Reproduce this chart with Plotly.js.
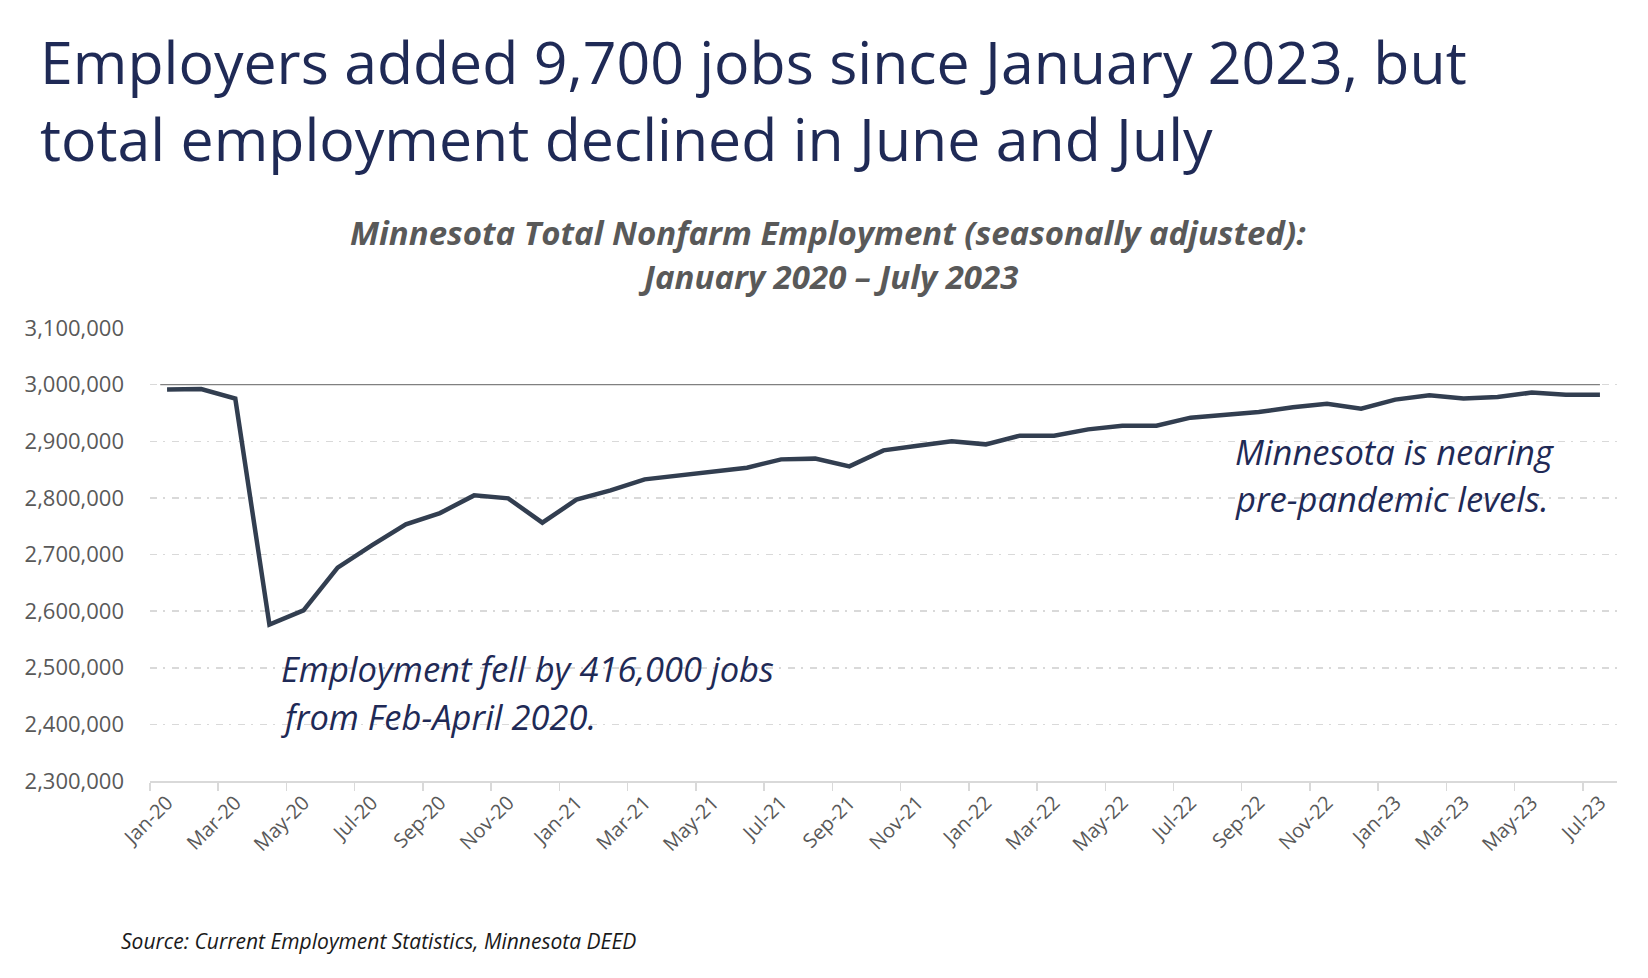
<!DOCTYPE html>
<html>
<head>
<meta charset="utf-8">
<script src="https://cdn.plot.ly/plotly-3.0.1.min.js"></script>
<style>
  html, body { margin: 0; padding: 0; background: #ffffff; }
  #chart { width: 1648px; height: 978px; }
</style>
</head>
<body>
<div id="chart"></div>
<script>
// ---- Data ----
const months = [
  'Jan-20','Feb-20','Mar-20','Apr-20','May-20','Jun-20','Jul-20','Aug-20','Sep-20','Oct-20','Nov-20','Dec-20',
  'Jan-21','Feb-21','Mar-21','Apr-21','May-21','Jun-21','Jul-21','Aug-21','Sep-21','Oct-21','Nov-21','Dec-21',
  'Jan-22','Feb-22','Mar-22','Apr-22','May-22','Jun-22','Jul-22','Aug-22','Sep-22','Oct-22','Nov-22','Dec-22',
  'Jan-23','Feb-23','Mar-23','Apr-23','May-23','Jun-23','Jul-23'
];
const employment = [
  2991200, 2992200, 2975300, 2576200, 2601200, 2676700, 2716100, 2753200, 2773100, 2804400, 2799100, 2756200,
  2796800, 2813300, 2832700, 2839600, 2846500, 2853300, 2868000, 2869300, 2855700, 2883900, 2892200, 2899800,
  2894500, 2909900, 2909900, 2921000, 2927500, 2927500, 2941700, 2945800, 2951600, 2959900, 2966400, 2957600,
  2973500, 2981100, 2975300, 2978100, 2985900, 2982300, 2982300
];
const preP = 3000000;                 // pre-pandemic reference level
const yMin = 2300000, yMax = 3100000, yStep = 100000;

const titleText = 'Employers added 9,700 jobs since January 2023, but<br>total employment declined in June and July';
const subtitleLines = ['Minnesota Total Nonfarm Employment (seasonally adjusted):', 'January 2020 \u2013 July 2023'];
const noteDropLines = ['Employment fell by 416,000 jobs', 'from Feb-April 2020.'];
const noteNearLines = ['Minnesota is nearing', 'pre-pandemic levels.'];
const sourceText = 'Source: Current Employment Statistics, Minnesota DEED';

// ---- Layout helpers (pixel -> paper) ----
const W = 1648, H = 978;
const M = { l: 150, r: 31, t: 328, b: 197 };
const PW = W - M.l - M.r, PH = H - M.t - M.b;
const px = X => (X - M.l) / PW;
const py = Y => (H - M.b - Y) / PH;

const FONT = 'Open Sans, Noto Sans, Liberation Sans, sans-serif';
const NAVY = '#1f2a56';
const GREY = '#595959';

function textAnn(text, X, Y, size, opts) {
  return Object.assign({
    text: text, xref: 'paper', yref: 'paper', x: px(X), y: py(Y),
    xanchor: 'left', yanchor: 'middle', showarrow: false, align: 'left',
    font: { family: FONT, size: size, color: NAVY, style: 'italic' }
  }, opts || {});
}

const annotations = [
  textAnn(subtitleLines[0], 828, 232, 33, { xanchor: 'center', align: 'center',
    font: { family: FONT, size: 33, color: GREY, style: 'italic', weight: 'bold' } }),
  textAnn(subtitleLines[1], 828, 276, 33, { xanchor: 'center', align: 'center',
    font: { family: FONT, size: 33, color: GREY, style: 'italic', weight: 'bold' } }),
  textAnn(noteDropLines[0], 279, 668, 34.5),
  textAnn(noteDropLines[1], 279, 716, 34.5),
  textAnn(noteNearLines[0], 1233, 451, 34.5),
  textAnn(noteNearLines[1], 1233, 498, 34.5),
  textAnn(sourceText, 119, 941, 21, { font: { family: FONT, size: 21, color: '#1a1a1a', style: 'italic' } })
];

const trace = {
  type: 'scatter', mode: 'lines',
  x: months, y: employment,
  line: { color: '#323e50', width: 4.5 },
  hoverinfo: 'x+y'
};

const layout = {
  width: W, height: H,
  paper_bgcolor: '#ffffff', plot_bgcolor: '#ffffff',
  margin: M,
  showlegend: false,
  title: {
    text: titleText,
    xref: 'container', yref: 'container',
    x: 40 / W, xanchor: 'left',
    y: 1 - 84 / H, yanchor: 'top',
    font: { family: FONT, size: 59, color: NAVY }
  },
  xaxis: {
    type: 'category',
    range: [-0.5, months.length - 0.5],
    tickmode: 'linear', tick0: 0, dtick: 2,
    tickson: 'boundaries',
    ticks: 'outside', ticklen: 8, tickwidth: 1.5, tickcolor: '#d9d9d9',
    showline: true, linecolor: '#d9d9d9', linewidth: 2,
    showgrid: false, zeroline: false,
    tickangle: -45,
    tickfont: { family: FONT, size: 20, color: GREY },
    fixedrange: true
  },
  yaxis: {
    range: [yMin, yMax],
    tickmode: 'linear', tick0: yMin, dtick: yStep,
    tickformat: ',d',
    showgrid: true, gridcolor: '#d9d9d9', gridwidth: 1.5,
    griddash: '7px,6px,2px,7px',
    zeroline: false, showline: false, ticks: '',
    ticklabelstandoff: 25,
    tickfont: { family: FONT, size: 22, color: GREY },
    fixedrange: true
  },
  shapes: [{
    type: 'line', xref: 'x', yref: 'y',
    x0: -0.2, x1: months.length - 1, y0: preP, y1: preP,
    line: { color: '#808080', width: 1.2 }
  }],
  annotations: annotations
};

Plotly.newPlot('chart', [trace], layout, { displayModeBar: false, staticPlot: true });
</script>
</body>
</html>
